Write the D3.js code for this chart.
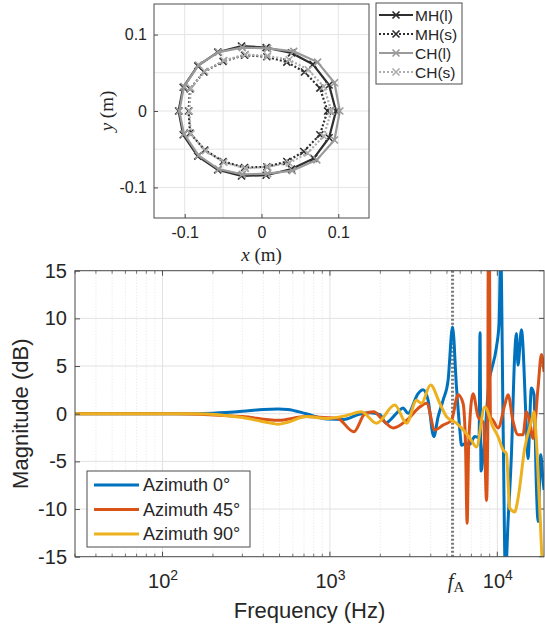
<!DOCTYPE html>
<html>
<head>
<meta charset="utf-8">
<script src="https://cdn.jsdelivr.net/npm/d3@7"></script>
<style>
  body { margin: 0; background: #ffffff; }
  text { font-family: "Liberation Sans", Arial, Helvetica, sans-serif; fill: #262626; }
</style>
</head>
<body>
<div id="chart"></div>
<script>
// ---------- data: head contours (x, y in metres) ----------
const contourNames = ["MH(l)", "MH(s)", "CH(l)", "CH(s)"];
const mhLarge = [[-0.108,0],[-0.102,0.031],[-0.083,0.059],[-0.057,0.077],[-0.026,0.085],[0.006,0.083],[0.039,0.076],[0.067,0.061],[0.088,0.034],[0.097,0],[0.088,-0.035],[0.068,-0.062],[0.039,-0.076],[0.006,-0.084],[-0.026,-0.085],[-0.057,-0.077],[-0.083,-0.059],[-0.102,-0.031]];
const mhSmall = [[-0.095,0],[-0.093,0.029],[-0.075,0.051],[-0.050,0.065],[-0.022,0.073],[0.007,0.071],[0.033,0.064],[0.056,0.051],[0.076,0.030],[0.086,0],[0.076,-0.031],[0.055,-0.053],[0.033,-0.066],[0.007,-0.073],[-0.022,-0.074],[-0.050,-0.066],[-0.074,-0.051],[-0.093,-0.029]];
const chLarge = [[-0.107,0],[-0.101,0.032],[-0.082,0.060],[-0.056,0.077],[-0.025,0.083],[0.008,0.082],[0.042,0.078],[0.073,0.064],[0.095,0.037],[0.102,0],[0.095,-0.038],[0.072,-0.064],[0.040,-0.078],[0.008,-0.082],[-0.025,-0.083],[-0.056,-0.076],[-0.082,-0.058],[-0.101,-0.030]];
const chSmall = [[-0.094,0],[-0.092,0.030],[-0.074,0.052],[-0.049,0.066],[-0.021,0.074],[0.008,0.072],[0.036,0.067],[0.061,0.054],[0.081,0.032],[0.091,0],[0.081,-0.033],[0.060,-0.055],[0.036,-0.068],[0.008,-0.073],[-0.021,-0.075],[-0.049,-0.067],[-0.073,-0.052],[-0.092,-0.030]];
const contourTicks = [-0.1, 0, 0.1];
const contourGrid = [-0.1, -0.05, 0, 0.05, 0.1];

// ---------- data: magnitude responses [Hz, dB] ----------
const azimuthNames = ["Azimuth 0°", "Azimuth 45°", "Azimuth 90°"];
const az0 = [[30,0],[80,0],[150,0],[200,0.05],[300,0.25],[400,0.45],[490,0.5],[560,0.45],[720,0],[960,-0.55],[1210,-0.6],[1500,-0.05],[1730,0.1],[1990,-0.1],[2160,-1.0],[2280,-0.7],[2620,0.4],[2730,0.6],[2930,0.05],[3360,2.1],[3600,2.5],[3860,1.4],[4170,-2.4],[4430,-0.3],[4740,1.4],[5080,3.5],[5400,9.1],[5700,2.8],[5970,-1.7],[6110,-3.3],[6500,-3.1],[6840,-3.2],[7330,-2.4],[7780,-2.5],[7880,8.5],[7990,-6],[8220,-4.5],[9010,3.9],[9220,4.6],[9880,7.0],[10240,9.5],[10480,17],[10820,-0.8],[11180,-17],[11590,-11.3],[12140,-4.3],[12700,6.2],[13000,8.4],[13290,5.1],[13930,8.8],[14920,-1.5],[15250,-4.7],[15980,2.7],[16560,2.0],[17120,-7.8],[17500,-11.3],[18160,-4.3],[18740,-7],[19000,-8]];
const az45 = [[30,0],[120,0],[190,-0.1],[300,-0.3],[490,-0.7],[720,-0.3],[910,-0.4],[1100,-0.45],[1390,-1.9],[1620,0],[1820,0.2],[2080,-0.7],[2390,-1.5],[2870,-0.7],[3440,0.7],[3780,1.1],[4230,-1.7],[4740,-1.2],[5320,-0.7],[5830,2.0],[6240,1.1],[6450,-3],[6600,-11.5],[6750,-3],[7160,2.1],[7670,-0.3],[8300,-1],[8620,-9.1],[8760,-2],[8830,18],[8950,18],[9100,-0.5],[9220,-0.5],[10100,-1.5],[11070,0.9],[11590,2.0],[12410,-0.8],[13290,-2.2],[14240,-2.2],[14920,0.2],[15610,-0.8],[16340,-2.6],[17500,2.7],[18340,6.2],[19000,4.4]];
const az90 = [[30,0],[120,0],[160,0],[300,-0.4],[450,-1.0],[490,-1.1],[560,-0.9],[720,-0.3],[960,-0.5],[1250,-0.2],[1540,0.2],[1900,-1.0],[2440,0.9],[2870,-1.0],[3290,1.4],[3520,1.1],[3990,3.0],[4530,1.1],[4970,-0.3],[5700,-1.0],[6540,-2.1],[7000,-2.8],[7500,-3.5],[8410,0.7],[9420,-1.4],[10100,-2.4],[10820,-3.8],[11330,-4.2],[11860,-9.9],[12700,-10.3],[13290,-8.9],[14580,-3.6],[15980,-0.8],[16560,0.2],[17120,-2.9],[17910,-9.9],[18740,-16],[19000,-16]];
const fA = 5400;
const freqTicks = [100, 1000, fA, 10000];
const magTicks = [-15, -10, -5, 0, 5, 10, 15];

// ---------- svg ----------
const svg = d3.select("#chart").append("svg")
  .attr("width", 545)
  .attr("height", 628);

// =============== top panel: contours ===============
const xC = d3.scaleLinear().domain([-0.14, 0.14]).range([154, 369]);
const yC = d3.scaleLinear().domain([-0.14, 0.14]).range([218, 4]);
const gTop = svg.append("g");

// Grid lines every 0.05 m.
gTop.selectAll(".gx").data(contourGrid).enter().append("line")
  .attr("x1", d => xC(d)).attr("x2", d => xC(d))
  .attr("y1", yC(-0.14)).attr("y2", yC(0.14))
  .attr("stroke", "#e4e4e4").attr("stroke-width", 1);
gTop.selectAll(".gy").data(contourGrid).enter().append("line")
  .attr("y1", d => yC(d)).attr("y2", d => yC(d))
  .attr("x1", xC(-0.14)).attr("x2", xC(0.14))
  .attr("stroke", "#e4e4e4").attr("stroke-width", 1);

// Axes with inward ticks.
const fmtC = d => d === 0 ? "0" : String(d);
gTop.append("g")
  .attr("transform", `translate(0,${yC(-0.14)})`)
  .call(d3.axisBottom(xC).tickValues(contourTicks).tickSize(-4).tickSizeOuter(0).tickPadding(9).tickFormat(fmtC))
  .call(g => g.select(".domain").remove())
  .selectAll("text").attr("font-size", "16px").attr("fill", "#262626");
gTop.append("g")
  .attr("transform", `translate(${xC(-0.14)},0)`)
  .call(d3.axisLeft(yC).tickValues(contourTicks).tickSize(-4).tickSizeOuter(0).tickPadding(7).tickFormat(fmtC))
  .call(g => g.select(".domain").remove())
  .selectAll("text").attr("font-size", "16px").attr("fill", "#262626");
gTop.selectAll(".tick line").attr("stroke", "#4d4d4d");

// Contour lines with x markers.
const contourStyles = [
  { data: mhLarge, color: "#2e2e2e", dash: null },
  { data: mhSmall, color: "#2e2e2e", dash: "2,2" },
  { data: chLarge, color: "#9a9a9a", dash: null },
  { data: chSmall, color: "#acacac", dash: "2,2" }
];
const xMark = "M-3.5,-3.5L3.5,3.5M-3.5,3.5L3.5,-3.5";
contourStyles.forEach(s => {
  gTop.append("path")
    .datum(s.data)
    .attr("d", d3.line().x(d => xC(d[0])).y(d => yC(d[1])).curve(d3.curveLinearClosed))
    .attr("fill", "none")
    .attr("stroke", s.color)
    .attr("stroke-width", 2.2)
    .attr("stroke-dasharray", s.dash);
  gTop.selectAll(null).data(s.data).enter().append("path")
    .attr("transform", d => `translate(${xC(d[0])},${yC(d[1])})`)
    .attr("d", xMark)
    .attr("stroke", s.color)
    .attr("stroke-width", 1.6);
});

// Box.
gTop.append("rect")
  .attr("x", xC(-0.14)).attr("y", yC(0.14))
  .attr("width", xC(0.14) - xC(-0.14)).attr("height", yC(-0.14) - yC(0.14))
  .attr("fill", "none").attr("stroke", "#4d4d4d").attr("stroke-width", 1);

// Axis labels (LaTeX style).
const xlab = gTop.append("text")
  .attr("x", xC(0)).attr("y", 261)
  .attr("text-anchor", "middle")
  .style("font-family", "'Liberation Serif', 'DejaVu Serif', serif")
  .attr("font-size", "19px");
xlab.append("tspan").attr("font-style", "italic").text("x");
xlab.append("tspan").text(" (m)");
const ylab = gTop.append("text")
  .attr("transform", `translate(113,${yC(0)}) rotate(-90)`)
  .attr("text-anchor", "middle")
  .style("font-family", "'Liberation Serif', 'DejaVu Serif', serif")
  .attr("font-size", "19px");
ylab.append("tspan").attr("font-style", "italic").text("y");
ylab.append("tspan").text(" (m)");

// Legend.
const legTop = gTop.append("g");
legTop.append("rect")
  .attr("x", 376).attr("y", 3).attr("width", 86).attr("height", 81)
  .attr("fill", "#ffffff").attr("stroke", "#4d4d4d").attr("stroke-width", 1);
contourNames.forEach((name, i) => {
  const ly = 15 + i * 19;
  const s = contourStyles[i];
  legTop.append("line")
    .attr("x1", 379).attr("x2", 413).attr("y1", ly).attr("y2", ly)
    .attr("stroke", s.color).attr("stroke-width", 2.2).attr("stroke-dasharray", s.dash);
  legTop.append("path")
    .attr("transform", `translate(396,${ly})`)
    .attr("d", xMark).attr("stroke", s.color).attr("stroke-width", 1.6);
  legTop.append("text")
    .attr("x", 415).attr("y", ly).attr("dy", "0.36em")
    .attr("font-size", "15.5px").text(name);
});

// =============== bottom panel: magnitude ===============
const x = d3.scaleLog().domain([30, 19000]).range([75, 544]);
const y = d3.scaleLinear().domain([-15, 15]).range([556.7, 270.7]);
const gBot = svg.append("g");

const majorF = [100, 1000, 10000];
const minorF = [];
[10, 100, 1000].forEach(dec => {
  for (let k = 2; k <= 9; k++) {
    const v = k * dec;
    if (v >= 30 && v <= 19000) minorF.push(v);
  }
});

// Grid.
gBot.selectAll(".mgx").data(minorF).enter().append("line")
  .attr("x1", d => x(d)).attr("x2", d => x(d))
  .attr("y1", y(-15)).attr("y2", y(15))
  .attr("stroke", "#dedede").attr("stroke-width", 0.8).attr("stroke-dasharray", "1,2");
gBot.selectAll(".gx").data(majorF).enter().append("line")
  .attr("x1", d => x(d)).attr("x2", d => x(d))
  .attr("y1", y(-15)).attr("y2", y(15))
  .attr("stroke", "#e2e2e2").attr("stroke-width", 1);
gBot.selectAll(".gy").data(magTicks).enter().append("line")
  .attr("y1", d => y(d)).attr("y2", d => y(d))
  .attr("x1", x(30)).attr("x2", x(19000))
  .attr("stroke", "#e2e2e2").attr("stroke-width", 1);

// Minor ticks top and bottom.
[y(-15), y(15)].forEach((yy, i) => {
  const dir = i === 0 ? -1 : 1;
  gBot.selectAll(null).data(minorF).enter().append("line")
    .attr("x1", d => x(d)).attr("x2", d => x(d))
    .attr("y1", yy).attr("y2", yy + dir * 3)
    .attr("stroke", "#4d4d4d").attr("stroke-width", 0.8);
  gBot.selectAll(null).data(majorF).enter().append("line")
    .attr("x1", d => x(d)).attr("x2", d => x(d))
    .attr("y1", yy).attr("y2", yy + dir * 5)
    .attr("stroke", "#4d4d4d").attr("stroke-width", 1);
});
// Right side ticks.
gBot.selectAll(null).data(magTicks).enter().append("line")
  .attr("x1", x(19000)).attr("x2", x(19000) - 5)
  .attr("y1", d => y(d)).attr("y2", d => y(d))
  .attr("stroke", "#4d4d4d");

// f_A dotted line.
gBot.append("line")
  .attr("x1", x(fA)).attr("x2", x(fA))
  .attr("y1", y(-15)).attr("y2", y(15))
  .attr("stroke", "#7a7a7a").attr("stroke-width", 3)
  .attr("stroke-dasharray", "2,2");

// Series.
const colors = ["#0072BD", "#D95319", "#EDB120"];
const series = [az0, az45, az90];
svg.append("defs").append("clipPath").attr("id", "plotClip")
  .append("rect")
  .attr("x", x(30)).attr("y", y(15))
  .attr("width", x(19000) - x(30)).attr("height", y(-15) - y(15));
const magLine = d3.line()
  .x(d => x(d[0]))
  .y(d => y(d[1]))
  .curve(d3.curveMonotoneX);
const gLines = gBot.append("g").attr("clip-path", "url(#plotClip)");
series.forEach((s, i) => {
  gLines.append("path")
    .datum(s)
    .attr("d", magLine)
    .attr("fill", "none")
    .attr("stroke", colors[i])
    .attr("stroke-width", 3)
    .attr("stroke-linejoin", "round");
});

// Axes.
gBot.append("g")
  .attr("transform", `translate(${x(30)},0)`)
  .call(d3.axisLeft(y).tickValues(magTicks).tickSize(-5).tickSizeOuter(0).tickPadding(8).tickFormat(d => String(d)))
  .call(g => g.select(".domain").remove())
  .call(g => g.selectAll(".tick line").attr("stroke", "#4d4d4d"))
  .selectAll("text").attr("font-size", "20px").attr("fill", "#262626");

gBot.append("g")
  .attr("transform", `translate(0,${y(-15)})`)
  .call(d3.axisBottom(x).tickValues(freqTicks).tickSize(0).tickSizeOuter(0).tickPadding(0).tickFormat(""))
  .call(g => g.select(".domain").remove())
  .selectAll(".tick text")
  .attr("y", 31.5).attr("dy", null)
  .each(function(d) {
    const t = d3.select(this);
    if (d === fA) {
      t.style("font-family", "'Liberation Serif', 'DejaVu Serif', serif").attr("font-size", "21px");
      t.append("tspan").attr("font-style", "italic").text("f");
      t.append("tspan").attr("dy", "0.25em").attr("font-size", "15px").text("A");
      t.attr("transform", "translate(3,0)");
    } else {
      t.attr("font-size", "20px");
      t.append("tspan").text("10");
      t.append("tspan").attr("dy", "-0.55em").attr("font-size", "14px").text(Math.round(Math.log10(d)));
    }
  });

// Box.
gBot.append("rect")
  .attr("x", x(30)).attr("y", y(15))
  .attr("width", x(19000) - x(30)).attr("height", y(-15) - y(15))
  .attr("fill", "none").attr("stroke", "#4d4d4d").attr("stroke-width", 1);

// Labels.
gBot.append("text")
  .attr("x", (x(30) + x(19000)) / 2).attr("y", 618)
  .attr("text-anchor", "middle").attr("font-size", "22px")
  .text("Frequency (Hz)");
gBot.append("text")
  .attr("transform", `translate(28,${y(0)}) rotate(-90)`)
  .attr("text-anchor", "middle").attr("font-size", "22px")
  .text("Magnitude (dB)");

// Legend.
const legBot = gBot.append("g");
legBot.append("rect")
  .attr("x", 87).attr("y", 471).attr("width", 163).attr("height", 76)
  .attr("fill", "#ffffff").attr("stroke", "#4d4d4d").attr("stroke-width", 1);
azimuthNames.forEach((name, i) => {
  const ly = 485 + i * 24.5;
  legBot.append("line")
    .attr("x1", 94).attr("x2", 139).attr("y1", ly).attr("y2", ly)
    .attr("stroke", colors[i]).attr("stroke-width", 3);
  legBot.append("text")
    .attr("x", 143).attr("y", ly).attr("dy", "0.36em")
    .attr("font-size", "18px").text(name);
});
</script>
</body>
</html>
